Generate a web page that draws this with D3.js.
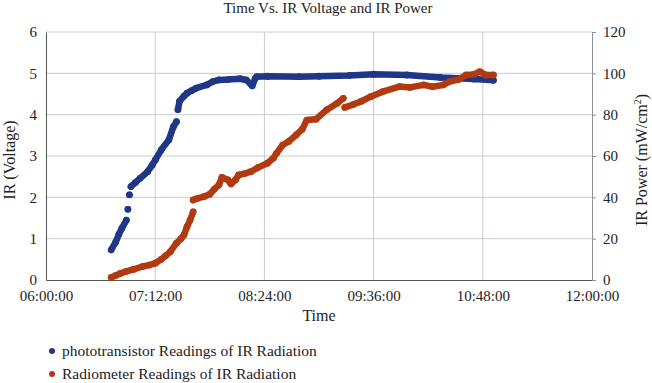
<!DOCTYPE html>
<html lang="en">
<head>
<meta charset="UTF-8">
<title>Time Vs. IR Voltage and IR Power</title>
<script src="https://d3js.org/d3.v7.min.js"></script>
<style>
    body { margin: 0; background: #fff; }
    svg text { font-family: 'Liberation Serif', 'DejaVu Serif', serif; fill: #222; }
</style>
</head>
<body>
<div id="chart"></div>
<script>
    // phototransistor readings (left axis, volts); null = gap in the readings
    const photoTimes = ["06:43","06:46","06:48","06:50","06:53",null,"06:54",null,"06:55",null,
        "06:56","06:59","07:02","07:07","07:10","07:12","07:16","07:21","07:24","07:26",null,
        "07:27","07:28","07:31","07:33","07:36","07:39","07:46","07:50","07:54","08:00","08:08",
        "08:12","08:15","08:16","08:18","08:19","08:26","08:47","09:00","09:20","09:36","09:58",
        "10:20","10:42","10:55"];
    const photoVolts = [0.73,0.92,1.10,1.25,1.45,null,1.71,null,2.06,null,
        2.26,2.36,2.46,2.62,2.78,2.90,3.15,3.39,3.71,3.83,null,
        4.12,4.32,4.45,4.52,4.58,4.64,4.72,4.80,4.84,4.85,4.87,
        4.84,4.74,4.70,4.88,4.92,4.93,4.92,4.93,4.95,4.98,4.96,
        4.90,4.86,4.83];

    // radiometer readings (right axis, mW/cm2)
    const radioTimes = ["06:43","06:46","06:49","06:53","06:58","07:04","07:08","07:12","07:16","07:19",
        "07:22","07:26","07:29","07:31","07:33","07:35","07:37",null,"07:37","07:40","07:44","07:48",
        "07:51","07:54","07:56","08:00","08:02","08:05","08:07","08:11","08:15","08:20","08:26",
        "08:30","08:32","08:36","08:40","08:45","08:49","08:52","08:58","09:05","09:12","09:16",null,
        "09:17","09:23","09:28","09:34","09:42","09:53","10:00","10:09","10:15","10:22","10:26",
        "10:32","10:37","10:42","10:46","10:50","10:55"];
    const radioPower = [1.2,2.2,3.2,4.2,5.2,6.6,7.2,8.1,10.0,11.8,
        13.7,17.8,20.0,21.8,25.8,29.0,33.0,null,38.7,39.5,40.3,41.5,
        44.0,46.0,49.7,48.4,46.5,48.5,50.8,51.5,52.4,54.5,56.5,
        59.0,61.3,65.3,67.0,70.2,73.0,77.4,77.8,82.3,85.5,87.9,null,
        83.5,85.0,86.5,88.7,91.1,93.6,93.2,94.4,93.5,94.4,96.0,
        97.0,99.2,99.5,100.8,99.2,99.2];

    const xTickLabels = ["06:00:00","07:12:00","08:24:00","09:36:00","10:48:00","12:00:00"];
    const voltTicks = [0,1,2,3,4,5,6];
    const powerTicks = [0,20,40,60,80,100,120];
    const seriesNames = ["phototransistor Readings of IR Radiation","Radiometer Readings of IR Radiation"];
    const colors = ["#1f3786", "#b13a10"];

    const W = 652, H = 383;
    const margin = { top: 32, right: 60, bottom: 103, left: 46 };
    const width = W - margin.left - margin.right;
    const height = H - margin.top - margin.bottom;
    const fs = 15;

    const parseHM = d3.timeParse("%H:%M");
    const parseHMS = d3.timeParse("%H:%M:%S");

    const svg = d3.select("#chart").append("svg")
        .attr("width", W)
        .attr("height", H);

    const g = svg.append("g")
        .attr("transform", `translate(${margin.left},${margin.top})`);

    const x = d3.scaleTime()
        .domain([parseHMS(xTickLabels[0]), parseHMS(xTickLabels[xTickLabels.length - 1])])
        .range([0, width]);
    const yV = d3.scaleLinear().domain([0, 6]).range([height, 0]);
    const yP = d3.scaleLinear().domain([0, 120]).range([height, 0]);

    // gridlines
    g.append("g").selectAll("line").data(voltTicks.slice(1)).join("line")
        .attr("x1", 0).attr("x2", width)
        .attr("y1", d => yV(d)).attr("y2", d => yV(d))
        .attr("stroke", "#c6cbd6").attr("stroke-width", 1);
    g.append("g").selectAll("line").data(xTickLabels.slice(1, -1)).join("line")
        .attr("x1", d => x(parseHMS(d))).attr("x2", d => x(parseHMS(d)))
        .attr("y1", 0).attr("y2", height)
        .attr("stroke", "#c6cbd6").attr("stroke-width", 1);

    // axes
    const xAxis = g.append("g")
        .attr("transform", `translate(0,${height})`)
        .call(d3.axisBottom(x).tickValues(xTickLabels.map(parseHMS))
            .tickFormat(d3.timeFormat("%H:%M:%S")).tickSize(0).tickPadding(10));
    xAxis.select(".domain").attr("stroke", "#555");

    const leftAxis = g.append("g")
        .call(d3.axisLeft(yV).tickValues(voltTicks).tickFormat(d3.format("d"))
            .tickSize(0).tickPadding(9));
    leftAxis.select(".domain").attr("stroke", "#555");

    const rightAxis = g.append("g")
        .attr("transform", `translate(${width},0)`)
        .call(d3.axisRight(yP).tickValues(powerTicks).tickFormat(d3.format("d"))
            .tickSize(4).tickSizeOuter(4).tickPadding(7));
    rightAxis.select(".domain").attr("stroke", "#8a8f9c");
    rightAxis.selectAll(".tick line").attr("stroke", "#8a8f9c");

    svg.selectAll(".tick text")
        .attr("font-size", fs)
        .attr("fill", "#222");

    // series
    function drawSeries(times, vals, yScale, color) {
        const pts = times.map((t, i) => [t ? parseHM(t) : null, vals[i]]);
        const line = d3.line()
            .defined(d => d[1] != null)
            .x(d => x(d[0]))
            .y(d => yScale(d[1]));
        g.append("path")
            .datum(pts)
            .attr("fill", "none")
            .attr("stroke", color)
            .attr("stroke-width", 6.5)
            .attr("stroke-linecap", "round")
            .attr("stroke-linejoin", "round")
            .attr("d", line);
        g.append("g").selectAll("circle")
            .data(pts.filter(d => d[1] != null)).join("circle")
            .attr("cx", d => x(d[0]))
            .attr("cy", d => yScale(d[1]))
            .attr("r", 3.4)
            .attr("fill", color);
    }
    drawSeries(photoTimes, photoVolts, yV, colors[0]);
    drawSeries(radioTimes, radioPower, yP, colors[1]);

    // titles
    svg.append("text")
        .attr("x", W / 2 + 2).attr("y", 13)
        .attr("text-anchor", "middle").attr("font-size", fs)
        .text("Time Vs. IR Voltage and IR Power");
    svg.append("text")
        .attr("x", margin.left + width / 2).attr("y", 321)
        .attr("text-anchor", "middle").attr("font-size", fs + 1)
        .text("Time");
    svg.append("text")
        .attr("transform", `translate(15,${margin.top + height / 2 + 4}) rotate(-90)`)
        .attr("text-anchor", "middle").attr("font-size", fs + 1)
        .text("IR (Voltage)");
    const rt = svg.append("text")
        .attr("transform", `translate(647,${margin.top + height / 2 + 4}) rotate(-90)`)
        .attr("text-anchor", "middle").attr("font-size", fs + 1);
    rt.append("tspan").text("IR Power (mW/cm");
    rt.append("tspan").attr("dy", -6).attr("font-size", 10).text("2");
    rt.append("tspan").attr("dy", 6).text(")");

    // legend
    const legend = svg.append("g").selectAll("g")
        .data(seriesNames).join("g")
        .attr("transform", (d, i) => `translate(52,${351 + i * 23})`);
    legend.append("circle").attr("r", 3).attr("fill", (d, i) => colors[i]);
    legend.append("text").attr("x", 10).attr("y", 5)
        .attr("font-size", fs + 0.5).text(d => d);
</script>
</body>
</html>
